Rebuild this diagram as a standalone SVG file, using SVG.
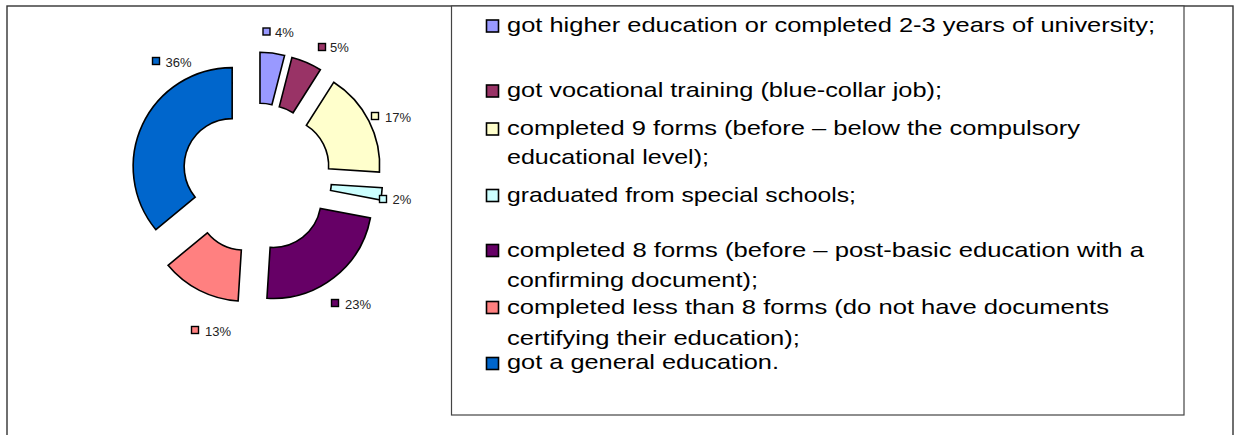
<svg xmlns="http://www.w3.org/2000/svg" width="1241" height="435" viewBox="0 0 1241 435">
<style>
.slice{stroke:#000;stroke-width:1.6;stroke-linejoin:miter}
.lab{font-family:"Liberation Sans",Arial,sans-serif;font-size:13px;fill:#222}
.sq{stroke:#000;stroke-width:1.4}
.lg{font-family:"Liberation Sans",Arial,sans-serif;font-size:21px;fill:#000}
.lsq{stroke:#000;stroke-width:1.6}
</style>
<rect id="frame" x="7" y="6" width="1226" height="440" fill="#fff" stroke="#333" stroke-width="1.4"/>
<rect id="legend-box" x="451.5" y="6" width="732.5" height="409" fill="#fff" stroke="#444" stroke-width="1.2"/>

<g id="chart">
<g id="slice-4"><path class="slice" fill="#9999FF" d="M 259.98 52.31 A 99 99 0 0 1 284.60 55.42 L 271.92 104.82 A 48 48 0 0 0 259.98 103.31 Z"/>
<rect class="sq" x="263" y="28" width="7" height="7" fill="#9999FF"/><text class="lab" x="275" y="36.5">4%</text></g>
<g id="slice-5"><path class="slice" fill="#993366" d="M 291.94 57.43 A 99 99 0 0 1 320.36 69.73 L 293.04 112.79 A 48 48 0 0 0 279.26 106.83 Z"/>
<rect class="sq" x="318.5" y="43.5" width="7" height="7" fill="#993366"/><text class="lab" x="330" y="52">5%</text></g>
<g id="slice-17"><path class="slice" fill="#FFFFCC" d="M 333.70 82.25 A 99 99 0 0 1 379.46 172.06 L 328.56 168.85 A 48 48 0 0 0 306.38 125.31 Z"/>
<rect class="sq" x="371.5" y="112.5" width="7" height="7" fill="#FFFFCC"/><text class="lab" x="385" y="121.5">17%</text></g>
<g id="slice-2"><path class="slice" fill="#CCFFFF" d="M 382.19 187.70 A 99 99 0 0 1 380.64 200.03 L 330.54 190.48 A 48 48 0 0 0 331.29 184.49 Z"/>
<rect class="sq" x="379.5" y="195.5" width="7" height="7" fill="#CCFFFF"/><text class="lab" x="392.5" y="204">2%</text></g>
<g id="slice-23"><path class="slice" fill="#660066" d="M 370.40 217.99 A 99 99 0 0 1 266.93 298.24 L 270.14 247.34 A 48 48 0 0 0 320.30 208.44 Z"/>
<rect class="sq" x="331.5" y="299.5" width="7" height="7" fill="#660066"/><text class="lab" x="345" y="308.5">23%</text></g>
<g id="slice-13"><path class="slice" fill="#FF8080" d="M 238.12 300.96 A 99 99 0 0 1 168.06 265.26 L 207.36 232.76 A 48 48 0 0 0 241.33 250.06 Z"/>
<rect class="sq" x="191.5" y="326.5" width="7" height="7" fill="#FF8080"/><text class="lab" x="205" y="335.5">13%</text></g>
<g id="slice-36"><path class="slice" fill="#0066CC" d="M 155.89 229.70 A 99 99 0 0 1 232.17 67.60 L 232.17 118.60 A 48 48 0 0 0 195.19 197.20 Z"/>
<rect class="sq" x="152.5" y="57.5" width="7" height="7" fill="#0066CC"/><text class="lab" x="165.5" y="66.5">36%</text></g>
</g>

<g id="legend">
<g id="leg-1"><rect class="lsq" x="486.5" y="20" width="12" height="12" fill="#9999FF"/>
<text class="lg" x="507" y="31.5" textLength="648" lengthAdjust="spacingAndGlyphs">got higher education or completed 2-3 years of university;</text></g>
<g id="leg-2"><rect class="lsq" x="486.5" y="85" width="12" height="12" fill="#993366"/>
<text class="lg" x="507" y="96.5" textLength="435" lengthAdjust="spacingAndGlyphs">got vocational training (blue-collar job);</text></g>
<g id="leg-3"><rect class="lsq" x="486.5" y="123" width="12" height="12" fill="#FFFFCC"/>
<text class="lg" x="507" y="134.5" textLength="573" lengthAdjust="spacingAndGlyphs">completed 9 forms (before – below the compulsory</text>
<text class="lg" x="507" y="164" textLength="202" lengthAdjust="spacingAndGlyphs">educational level);</text></g>
<g id="leg-4"><rect class="lsq" x="486.5" y="189.5" width="12" height="12" fill="#CCFFFF"/>
<text class="lg" x="507" y="201.5" textLength="349" lengthAdjust="spacingAndGlyphs">graduated from special schools;</text></g>
<g id="leg-5"><rect class="lsq" x="486.5" y="244.5" width="12" height="12" fill="#660066"/>
<text class="lg" x="507" y="256.5" textLength="637" lengthAdjust="spacingAndGlyphs">completed 8 forms (before – post-basic education with a</text>
<text class="lg" x="507" y="287" textLength="251" lengthAdjust="spacingAndGlyphs">confirming document);</text></g>
<g id="leg-6"><rect class="lsq" x="486.5" y="301.5" width="12" height="12" fill="#FF8080"/>
<text class="lg" x="507" y="313.5" textLength="602" lengthAdjust="spacingAndGlyphs">completed less than 8 forms (do not have documents</text>
<text class="lg" x="507" y="345" textLength="293" lengthAdjust="spacingAndGlyphs">certifying their education);</text></g>
<g id="leg-7"><rect class="lsq" x="486.5" y="357.5" width="12" height="12" fill="#0066CC"/>
<text class="lg" x="507" y="369" textLength="272" lengthAdjust="spacingAndGlyphs">got a general education.</text></g>
</g>
</svg>
